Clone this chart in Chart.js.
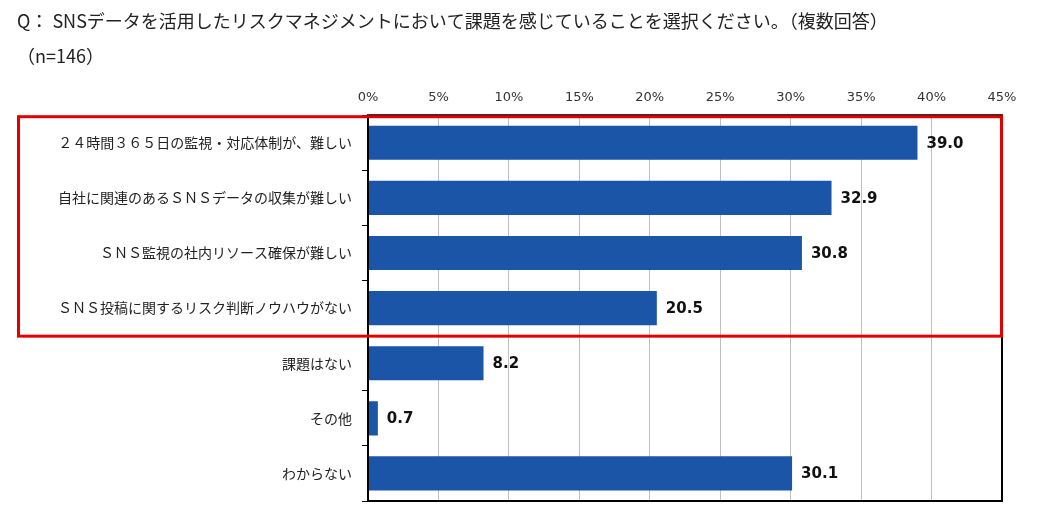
<!DOCTYPE html>
<html lang="ja">
<head>
<meta charset="utf-8">
<title>SNSリスクマネジメントの課題</title>
<script src="https://cdn.jsdelivr.net/npm/chart.js@4.4.1/dist/chart.umd.min.js"></script>
<style>
    html, body { margin: 0; padding: 0; background: #fff; }
    #wrap { width: 1047px; height: 514px; position: relative; }
</style>
</head>
<body>
<div id="wrap"><canvas id="riskChart"></canvas></div>
<script>
// Data
const titleLines = [
    'Q： SNSデータを活用したリスクマネジメントにおいて課題を感じていることを選択ください。（複数回答）',
    '（n=146）'
];
const categories = [
    '２４時間３６５日の監視・対応体制が、難しい',
    '自社に関連のあるＳＮＳデータの収集が難しい',
    'ＳＮＳ監視の社内リソース確保が難しい',
    'ＳＮＳ投稿に関するリスク判断ノウハウがない',
    '課題はない',
    'その他',
    'わからない'
];
const values = [39.0, 32.9, 30.8, 20.5, 8.2, 0.7, 30.1];
const xTicks = [0, 5, 10, 15, 20, 25, 30, 35, 40, 45];
const highlightCount = 4; // first four items are boxed in red

const jpFont = '"Noto Sans CJK JP", "Noto Sans", sans-serif';
const numFont = '"DejaVu Sans", Verdana, sans-serif';

// Value labels at the end of each bar
const valueLabels = {
    id: 'valueLabels',
    afterDatasetsDraw(chart) {
        const ctx = chart.ctx;
        const meta = chart.getDatasetMeta(0);
        ctx.save();
        ctx.font = 'bold 15px ' + numFont;
        ctx.fillStyle = '#111';
        ctx.textAlign = 'left';
        ctx.textBaseline = 'middle';
        meta.data.forEach((bar, i) => {
            ctx.fillText(values[i].toFixed(1), bar.x + 9, bar.y + 1);
        });
        ctx.restore();
    }
};

// Black frame round the plot area and the red highlight box
const frameAndBox = {
    id: 'frameAndBox',
    afterDatasetsDraw(chart) {
        const ctx = chart.ctx;
        const area = chart.chartArea;
        const y = chart.scales.y;
        const x = chart.scales.x;
        const half = (y.getPixelForValue(1) - y.getPixelForValue(0)) / 2;

        ctx.save();
        ctx.strokeStyle = '#000';
        ctx.lineWidth = 2;
        ctx.strokeRect(area.left, area.top, area.right - area.left, area.bottom - area.top);

        const top = y.getPixelForValue(0) - half;
        const bottom = y.getPixelForValue(highlightCount - 1) + half;
        ctx.strokeStyle = '#e20000';
        ctx.lineWidth = 3;
        ctx.strokeRect(y.left + 1.5, top + 1.5, x.getPixelForValue(45) - y.left - 2, bottom - top - 1);
        ctx.restore();
    }
};

const ctx = document.getElementById('riskChart').getContext('2d');
const riskChart = new Chart(ctx, {
    type: 'bar',
    data: {
        labels: categories,
        datasets: [{
            data: values,
            backgroundColor: '#1b55a8',
            borderWidth: 0,
            barPercentage: 0.62,
            categoryPercentage: 1.0
        }]
    },
    options: {
        indexAxis: 'y',
        responsive: true,
        maintainAspectRatio: false,
        animation: false,
        layout: {
            padding: { left: 17, right: 45, top: 0, bottom: 13 }
        },
        plugins: {
            legend: { display: false },
            tooltip: { enabled: false },
            title: {
                display: true,
                text: titleLines,
                align: 'start',
                color: '#222',
                font: { family: jpFont, size: 18, weight: 'normal', lineHeight: 1.95 },
                padding: { top: 4, bottom: 0 }
            }
        },
        scales: {
            x: {
                position: 'top',
                min: 0,
                max: 45,
                afterBuildTicks: (scale) => {
                    scale.ticks = xTicks.map(v => ({ value: v }));
                },
                afterFit: (scale) => {
                    scale.height = 41;
                    scale.paddingLeft = 0;
                    scale.paddingRight = 0;
                },
                ticks: {
                    color: '#333',
                    font: { family: numFont, size: 13 },
                    padding: 10,
                    callback: (v) => v + '%'
                },
                grid: {
                    color: '#c0c0c0',
                    lineWidth: 1,
                    drawTicks: false
                },
                border: { display: false }
            },
            y: {
                afterFit: (scale) => {
                    scale.width = 351;
                    scale.paddingTop = 0;
                    scale.paddingBottom = 0;
                },
                ticks: {
                    color: '#222',
                    font: { family: jpFont, size: 14 },
                    padding: 10
                },
                grid: {
                    offset: true,
                    drawOnChartArea: false,
                    drawTicks: true,
                    tickLength: 6,
                    color: '#000'
                },
                border: { display: false }
            }
        }
    },
    plugins: [valueLabels, frameAndBox]
});
</script>
</body>
</html>
